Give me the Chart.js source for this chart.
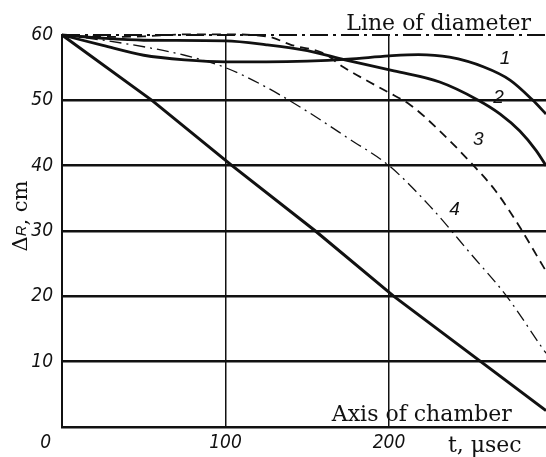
<!DOCTYPE html>
<html>
<head>
<meta charset="utf-8">
<script src="https://cdn.jsdelivr.net/npm/chart.js@4.4.1/dist/chart.umd.min.js"></script>
<style>
  html, body { margin: 0; padding: 0; background: #fff; }
  #chartBox { width: 546px; height: 457px; }
</style>
</head>
<body>
<div id="chartBox"><canvas id="chartR" width="546" height="457"></canvas></div>
<script>
// axis ticks
const xTicks = [0, 100, 200];
const yTicks = [0, 10, 20, 30, 40, 50, 60];
const T_MAX = 296;

// line of diameter (top) and straight line
const diameterT = [0, 296];
const diameterR = [60, 60];
const straightT = [0, 55, 104, 155, 203, 296];
const straightR = [60, 50, 40, 30, 20, 2.5];

// curve 1
const curve1T = [0, 25, 50, 75, 100, 125, 150, 175, 200, 218, 237, 258, 274, 288, 296];
const curve1R = [60, 58.4, 56.9, 56.2, 55.9, 55.9, 56.0, 56.3, 56.8, 57.0, 56.6, 55.1, 53.1, 50.0, 47.9];

// curve 2
const curve2T = [0, 25, 50, 100, 125, 150, 173, 203, 231, 254, 268, 280, 290, 296];
const curve2R = [60, 59.5, 59.2, 59.1, 58.5, 57.6, 56.2, 54.5, 52.8, 50.1, 47.9, 45.3, 42.3, 40.0];

// curve 3 (dashed)
const curve3T = [0, 25, 50, 75, 100, 127, 140, 160, 172, 188, 199, 213, 229, 251, 265, 279, 294, 296];
const curve3R = [60, 59.7, 59.8, 60.1, 60.1, 59.7, 58.5, 57.2, 55.1, 52.8, 51.3, 49.3, 45.8, 40.2, 36.2, 31.0, 24.7, 23.9];

// curve 4 (dash-dot)
const curve4T = [0, 25, 50, 75, 100, 125, 150, 175, 200, 225, 250, 272, 294, 296];
const curve4R = [60, 59.2, 58.2, 56.9, 55.0, 52.0, 48.3, 44.2, 40.0, 33.8, 26.5, 20.0, 12.0, 11.3];

const INK = '#111';
const SERIF = "22px 'DejaVu Serif'";

function toPoints(ts, rs) {
    return ts.map((t, i) => ({x: t, y: rs[i]}));
}

function curve(ts, rs, width, dash, smooth) {
    return {
        data: toPoints(ts, rs),
        borderColor: INK,
        borderWidth: width,
        borderDash: dash,
        pointRadius: 0,
        fill: false,
        cubicInterpolationMode: smooth ? 'monotone' : 'default',
        tension: 0,
        clip: 10
    };
}

// texts drawn over the plot (labels of lines, axis title)
const figureText = {
    id: 'figureText',
    afterDraw(chart) {
        const {ctx, chartArea, scales: {x, y}} = chart;
        ctx.save();
        ctx.fillStyle = INK;

        ctx.font = SERIF;
        ctx.textBaseline = 'alphabetic';
        ctx.textAlign = 'right';
        ctx.fillText('Line of diameter', chartArea.right - 15, chartArea.top - 5);
        ctx.textAlign = 'left';
        ctx.fillText('Axis of chamber', x.getPixelForValue(165), chartArea.bottom - 6);
        ctx.fillText('t, \u03bcsec', x.getPixelForValue(236), chartArea.bottom + 25);

        // curve numbers
        ctx.font = "italic 19px 'Liberation Sans'";
        ctx.textAlign = 'center';
        ctx.textBaseline = 'middle';
        [['1', 271, 56.3], ['2', 267, 50.4], ['3', 254.6, 44], ['4', 240, 33.3]].forEach(([s, t, r]) => {
            ctx.fillText(s, x.getPixelForValue(t), y.getPixelForValue(r));
        });

        // y axis title, rotated
        const parts = [
            ['\u0394', "21px 'DejaVu Serif'"],
            ['R', "italic 15px 'Liberation Sans'"],
            [', cm', "21px 'DejaVu Serif'"]
        ];
        let total = 0;
        parts.forEach(p => { ctx.font = p[1]; total += ctx.measureText(p[0]).width; });
        ctx.translate(22, 216);
        ctx.rotate(-Math.PI / 2);
        ctx.textAlign = 'left';
        ctx.textBaseline = 'middle';
        let pos = -total / 2;
        parts.forEach(p => {
            ctx.font = p[1];
            ctx.fillText(p[0], pos, 0);
            pos += ctx.measureText(p[0]).width;
        });
        ctx.restore();
    }
};

const tickFont = {family: "'Liberation Sans Narrow', 'DejaVu Sans Condensed', 'Liberation Sans'", size: 19, style: 'italic'};

new Chart(document.getElementById('chartR'), {
    type: 'line',
    data: {
        datasets: [
            curve(diameterT, diameterR, 2, [18, 5, 3, 5], false),
            curve(straightT, straightR, 3, [], false),
            curve(curve1T, curve1R, 2.8, [], true),
            curve(curve2T, curve2R, 2.8, [], true),
            curve(curve3T, curve3R, 1.8, [9, 6], true),
            curve(curve4T, curve4R, 1.3, [12, 5, 2, 5], true)
        ]
    },
    options: {
        responsive: false,
        animation: false,
        devicePixelRatio: 1,
        layout: {padding: {top: 35, left: 0, right: 0, bottom: 0}},
        plugins: {legend: {display: false}, tooltip: {enabled: false}},
        scales: {
            x: {
                type: 'linear',
                min: 0,
                max: T_MAX,
                afterBuildTicks: s => { s.ticks = xTicks.map(v => ({value: v})); },
                afterFit: s => { s.height = 30; },
                border: {display: true, color: INK, width: 2.5},
                grid: {
                    drawTicks: false,
                    color: INK,
                    lineWidth: c => (c.tick && c.tick.value === 0) ? 0 : 1.5
                },
                ticks: {
                    padding: 5,
                    color: INK,
                    font: tickFont,
                    maxRotation: 0,
                    callback: v => v === 0 ? '0      ' : String(v)
                }
            },
            y: {
                type: 'linear',
                min: 0,
                max: 60,
                afterBuildTicks: s => { s.ticks = yTicks.map(v => ({value: v})); },
                afterFit: s => { s.width = 62; },
                border: {display: true, color: INK, width: 2},
                grid: {
                    drawTicks: false,
                    color: INK,
                    lineWidth: c => (c.tick && (c.tick.value === 0 || c.tick.value === 60)) ? 0 : 2.5
                },
                ticks: {
                    padding: 9,
                    color: INK,
                    font: tickFont,
                    callback: v => v === 0 ? '' : String(v)
                }
            }
        }
    },
    plugins: [figureText]
});
</script>
</body>
</html>
